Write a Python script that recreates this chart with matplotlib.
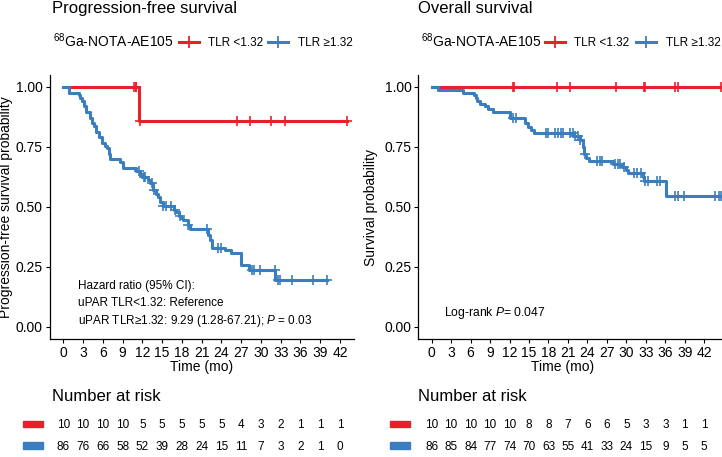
import matplotlib
matplotlib.use('Agg')
import matplotlib.pyplot as plt
import matplotlib.transforms as mtransforms
from matplotlib.lines import Line2D
from matplotlib.patches import Rectangle
import numpy as np

plt.rcParams['font.family'] = ['Liberation Sans', 'DejaVu Sans']
plt.rcParams['mathtext.fontset'] = 'custom'
plt.rcParams['mathtext.rm'] = 'Liberation Sans'
plt.rcParams['mathtext.it'] = 'Liberation Sans:italic'

# ---- data ----
risk_times = [0, 3, 6, 9, 12, 15, 18, 21, 24, 27, 30, 33, 36, 39, 42]

# progression-free survival
pfs_low_t = [0, 11.5]
pfs_low_s = [1.0, 0.857]
pfs_low_cens = [10.8, 11.0, 11.1, 11.7, 26.3, 28.4, 31.5, 33.7, 43.0]

pfs_high_t = [0, 0.8, 2.4, 2.6, 2.8, 3.1, 3.4, 4.1, 4.3, 4.6, 5.0, 5.4, 5.8, 6.4, 6.7,
              6.9, 7.1, 8.6, 9.1, 11.0, 11.7, 12.0, 12.9, 13.2, 13.6, 14.0, 14.3, 14.7,
              15.1, 16.8, 17.1, 17.5, 17.8, 18.1, 18.9, 19.2, 21.9, 22.3, 22.6, 24.6,
              25.4, 26.9, 28.2, 32.2]
pfs_high_s = [1.0, 0.977, 0.965, 0.953, 0.942, 0.919, 0.895, 0.872, 0.849, 0.837, 0.814,
              0.791, 0.767, 0.756, 0.744, 0.721, 0.698, 0.686, 0.663, 0.651, 0.639, 0.627,
              0.613, 0.598, 0.571, 0.556, 0.541, 0.522, 0.505, 0.488, 0.479, 0.462, 0.454,
              0.445, 0.425, 0.410, 0.384, 0.362, 0.330, 0.319, 0.307, 0.258, 0.238, 0.196]
pfs_high_cens = [11.5, 12.2, 12.4, 13.4, 13.7, 15.2, 15.6, 16.4, 16.9, 17.7, 19.0, 21.8,
                 23.5, 24.0, 28.6, 28.9, 29.8, 32.1, 32.6, 32.9, 34.7, 37.9, 40.0]

pfs_risk_low = [10, 10, 10, 10, 5, 5, 5, 5, 5, 4, 3, 2, 1, 1, 1]
pfs_risk_high = [86, 76, 66, 58, 52, 39, 28, 24, 15, 11, 7, 3, 2, 1, 0]

# overall survival
os_low_t = [0]
os_low_s = [1.0]
os_low_cens = [12.5, 12.7, 19.3, 21.3, 28.4, 32.7, 32.9, 37.5, 38.0, 44.6]

os_high_t = [0, 1.0, 4.9, 6.5, 6.8, 7.0, 7.4, 8.2, 8.7, 9.5, 12.1, 14.4, 14.9, 15.3, 15.7,
             21.9, 22.8, 23.3, 23.5, 23.8, 24.3, 28.0, 29.3, 30.0, 30.3, 32.5, 32.7, 36.1]
os_high_s = [1.0, 0.988, 0.976, 0.965, 0.953, 0.942, 0.930, 0.919, 0.907, 0.895, 0.872,
             0.848, 0.835, 0.822, 0.807, 0.794, 0.781, 0.752, 0.722, 0.705, 0.690, 0.678,
             0.666, 0.654, 0.643, 0.625, 0.610, 0.545]
os_high_cens = [12.6, 13.0, 17.6, 18.0, 19.0, 19.5, 19.9, 20.3, 21.3, 21.8, 22.1, 22.6,
                22.9, 23.7, 25.4, 25.9, 26.3, 28.3, 28.7, 29.0, 29.6, 31.1, 31.6, 32.2,
                32.9, 33.3, 34.7, 35.2, 37.5, 38.0, 38.8, 43.7, 44.2, 44.6]

os_risk_low = [10, 10, 10, 10, 10, 8, 8, 7, 6, 6, 5, 3, 3, 1, 1]
os_risk_high = [86, 85, 84, 77, 74, 70, 63, 55, 41, 33, 24, 15, 9, 5, 5]

RED = '#E8202A'
BLUE = '#3A7EBF'

W, H = 722, 457
fig = plt.figure(figsize=(7.22, 4.57), dpi=100)


def fx(px):
    return px / W


def fy(py):
    return 1 - py / H


def km(ax, t, s, cens, color):
    end = max(cens[-1], t[-1])
    ax.step(list(t) + [end], list(s) + [s[-1]], where='post', color=color, lw=2.2)
    idx = np.searchsorted(t, cens, side='right') - 1
    ax.plot(cens, np.array(s)[idx], ls='none', marker='+', ms=7, mew=1.2, color=color)


ax1 = fig.add_axes([fx(49.5), fy(339), fx(353.8) - fx(49.5), (339 - 75) / H])
ax2 = fig.add_axes([fx(418), fy(339), fx(722) - fx(418), (339 - 75) / H])

km(ax1, pfs_low_t, pfs_low_s, pfs_low_cens, RED)
km(ax1, pfs_high_t, pfs_high_s, pfs_high_cens, BLUE)
km(ax2, os_low_t, os_low_s, os_low_cens, RED)
km(ax2, os_high_t, os_high_s, os_high_cens, BLUE)

ax1.set_xlim(-2.1, 44.1)
ax2.set_xlim(-2.1, 44.73)
for ax in (ax1, ax2):
    ax.set_ylim(-0.05, 1.05)
    ax.spines['top'].set_visible(False)
    ax.spines['right'].set_visible(False)
    ax.spines['left'].set_linewidth(0.9)
    ax.spines['bottom'].set_linewidth(0.9)
    ax.set_xticks(risk_times)
    ax.set_yticks([0, 0.25, 0.5, 0.75, 1.0])
    ax.set_yticklabels(['0.00', '0.25', '0.50', '0.75', '1.00'])
    ax.tick_params(length=3.2, width=0.8, pad=1.5, labelsize=10, colors='black')
    ax.set_xlabel('Time (mo)', fontsize=10)
    ax.patch.set_visible(False)

ax1.set_ylabel('Progression-free survival probability', fontsize=10)
ax2.set_ylabel('Survival probability', fontsize=10)
ax1.yaxis.set_label_coords(-0.12, 0.5)
ax2.yaxis.set_label_coords(-0.132, 0.5)
ax1.xaxis.set_label_coords(0.5, -0.08)
ax2.xaxis.set_label_coords(0.476, -0.08)

# titles
fig.text(fx(51.7), fy(12.7), 'Progression-free survival', fontsize=12, va='baseline')
fig.text(fx(418.3), fy(12.7), 'Overall survival', fontsize=12, va='baseline')

# legends
for x0, kr, tr, kb, tb in [(53.3, 179, 208, 268, 298), (421, 545.3, 574.3, 636, 666)]:
    fig.text(fx(x0), fy(46.7), r'$^{68}$Ga-NOTA-AE105', fontsize=10, va='baseline')
    for k, c, lab, tx in [(kr, RED, 'TLR <1.32', tr), (kb, BLUE, 'TLR \u22651.32', tb)]:
        fig.add_artist(Line2D([fx(k), fx(k + 20)], [fy(41.7)] * 2, color=c, lw=2.2,
                              transform=fig.transFigure))
        fig.add_artist(Line2D([fx(k + 10)], [fy(41.7)], marker='+', ms=8, mew=1.3,
                              color=c, transform=fig.transFigure))
        fig.text(fx(tx), fy(45.7), lab, fontsize=8.5, va='baseline')

# annotations
fig.text(fx(78), fy(289), 'Hazard ratio (95% CI):', fontsize=8.5, va='baseline')
fig.text(fx(78), fy(306.5), 'uPAR TLR<1.32: Reference', fontsize=8.5, va='baseline')
fig.text(fx(78), fy(324), 'uPAR TLR\u22651.32: 9.29 (1.28-67.21); $P$ = 0.03',
         fontsize=8.5, va='baseline')
fig.text(fx(444.3), fy(315.7), 'Log-rank $P$= 0.047', fontsize=8.7, va='baseline')

# number at risk tables
for ax, xt, xb, rl, rh in [(ax1, 51.7, 23.3, pfs_risk_low, pfs_risk_high),
                           (ax2, 418.3, 390.3, os_risk_low, os_risk_high)]:
    fig.text(fx(xt), fy(400.7), 'Number at risk', fontsize=12, va='baseline')
    trans = mtransforms.blended_transform_factory(ax.transData, fig.transFigure)
    for yb, yc, c, vals in [(428.3, 424, RED, rl), (450, 445.7, BLUE, rh)]:
        fig.add_artist(Rectangle((fx(xb), fy(yc + 3.3)), fx(20), 6.6 / H, color=c,
                                 transform=fig.transFigure))
        for t, n in zip(risk_times, vals):
            ax.text(t, fy(yb), str(n), transform=trans, ha='center', va='baseline',
                    fontsize=8.5)

fig.savefig('out.png', dpi=100)
